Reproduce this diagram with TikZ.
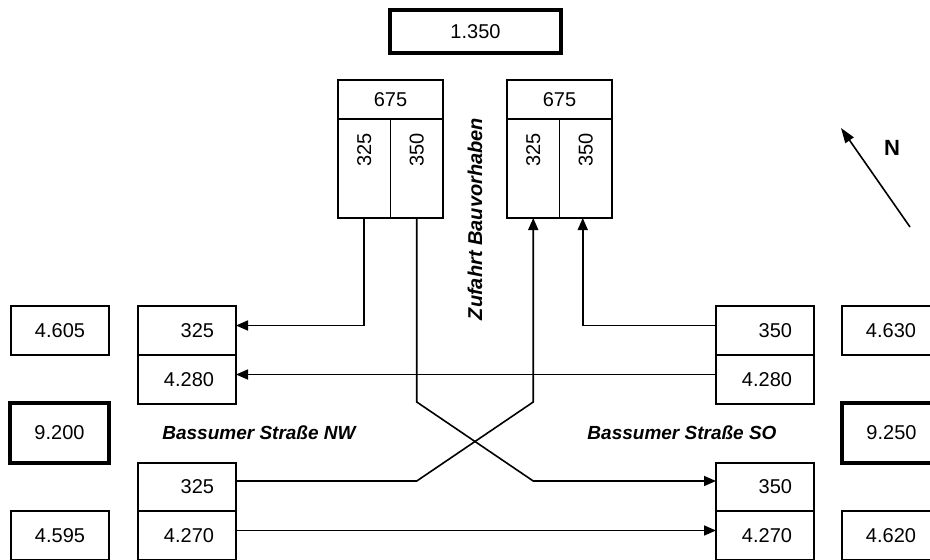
\documentclass[tikz,border=0pt]{standalone}
\usepackage{fontspec}
\setmainfont{Liberation Sans}
\usetikzlibrary{arrows.meta, positioning}

\begin{document}
\begin{tikzpicture}[
    x=1pt, y=-1pt,
    font=\fontsize{20}{23}\selectfont,
    cell/.style={draw, line width=1.8pt, inner sep=0pt, outer sep=0pt,
                 minimum width=98pt, minimum height=49pt},
    totalbox/.style={cell, line width=4pt},
    lane/.style={cell, text width=54pt, align=right, inner xsep=22pt},
    rot/.style={rotate=90, anchor=east, inner sep=0pt},
    street/.style={font=\fontsize{19}{22}\selectfont\bfseries\itshape},
    flow/.style={line width=1.6pt, -{Triangle[length=12pt, width=10pt]}}
]

\useasboundingbox (0,0) rectangle (930,560);
\clip (0,0) rectangle (930,560);

% ── Access road (top) ─────────────────────────────────────
\node[totalbox, minimum width=171pt, minimum height=43pt] (total) at (475.5,31.5) {1.350};

\foreach \g/\x in {L/338, R/507} {
    \node[cell, anchor=north west, minimum width=105pt, minimum height=39pt] (hd\g) at (\x,80) {675};
    \node[cell, anchor=north west, minimum width=52.5pt, minimum height=99pt] (c\g1) at (hd\g.south west) {};
    \node[cell, anchor=north east, minimum width=52.5pt, minimum height=99pt] (c\g2) at (hd\g.south east) {};
    \node[rot] (n\g1) at ([yshift=-14pt]c\g1.north) {325};
    \node[rot] (n\g2) at ([yshift=-14pt]c\g2.north) {350};
}
\node[street, font=\fontsize{20}{23}\selectfont\bfseries\itshape, rotate=90] (access) at (475,219) {Zufahrt Bauvorhaben};

% ── Bassumer Straße NW ────────────────────────────────────
\node[cell, anchor=north west] (nwIn) at (11,306) {4.605};
\node[totalbox, anchor=north west, minimum width=99pt, minimum height=60pt] (nwTotal) at (10,403) {9.200};
\node[cell, anchor=north west] (nwOut) at (11,511) {4.595};

\node[lane, anchor=north west] (nwA) at (138,306) {325};
\node[lane, anchor=north] (nwB) at (nwA.south) {4.280};
\node[lane, anchor=north west, minimum height=48pt] (nwC) at (138,463) {325};
\node[lane, anchor=north] (nwD) at (nwC.south) {4.270};
\node[street] (nwName) at (259,433) {Bassumer Straße NW};

% ── Bassumer Straße SO ────────────────────────────────────
\node[cell, anchor=north west] (soIn) at (842,306) {4.630};
\node[totalbox, anchor=north west, minimum width=99pt, minimum height=60pt] (soTotal) at (842,403) {9.250};
\node[cell, anchor=north west] (soOut) at (842,511) {4.620};

\node[lane, anchor=north west] (soA) at (716,306) {350};
\node[lane, anchor=north] (soB) at (soA.south) {4.280};
\node[lane, anchor=north west, minimum height=48pt] (soC) at (716,463) {350};
\node[lane, anchor=north] (soD) at (soC.south) {4.270};
\node[street] (soName) at (682,433) {Bassumer Straße SO};

% ── North arrow ───────────────────────────────────────────
\coordinate (nTail) at (910,227);
\coordinate (nTip) at (841,128);
\draw[line width=1.6pt, -{Triangle[length=15pt, width=10pt]}] (nTail) -- (nTip);
\node[font=\fontsize{22}{25}\selectfont\bfseries] (nLabel) at (892,148) {N};

% ── Flows ─────────────────────────────────────────────────
\coordinate (kink) at (0,402);
\coordinate (rowC) at ([yshift=6pt]nwC.east);

\draw[flow] (cL1.south) |- ([yshift=5pt]nwA.east);
\draw[flow] ([yshift=5pt]soA.west) -| ([xshift=-3pt]cR2.south);
\draw[flow] ([yshift=5pt]soB.west) -- ([yshift=5pt]nwB.east);
\draw[flow] (cL2.south) -- (cL2.south |- kink) -- (cR1.south |- rowC) -- (rowC -| soC.west);
\draw[flow] (rowC) -- (cL2.south |- rowC) -- (cR1.south |- kink) -- (cR1.south);
\draw[flow] ([yshift=5pt]nwD.east) -- ([yshift=5pt]soD.west);

\end{tikzpicture}
\end{document}
